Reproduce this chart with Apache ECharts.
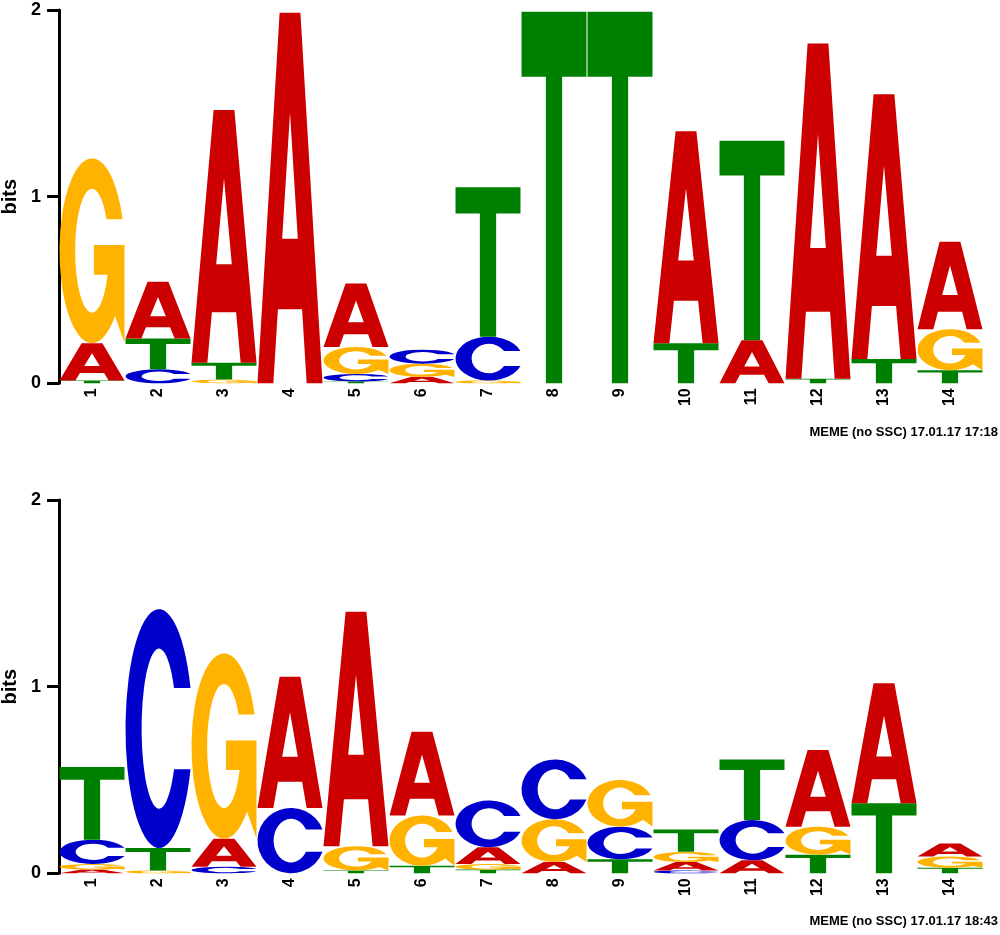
<!DOCTYPE html>
<html>
<head>
<meta charset="utf-8">
<script src="https://cdn.jsdelivr.net/npm/echarts@6/dist/echarts.min.js"></script>
<style>
html,body{margin:0;padding:0;background:#fff;}
#chart{width:1000px;height:935px;}
</style>
</head>
<body>
<div id="chart"></div>
<script>
// Positions (x-axis tick labels)
const positions = ['1','2','3','4','5','6','7','8','9','10','11','12','13','14'];
const yTicks = [0, 1, 2];

// Motif 1 (top logo): information content per letter, in bits
const m1A = [0.20, 0.304, 1.354, 1.985, 0.34, 0.035, 0.0, 0.0, 0.0, 1.135, 0.23, 1.795, 1.418, 0.468];
const m1C = [0.0, 0.075, 0.0, 0.0, 0.04, 0.075, 0.235, 0.0, 0.0, 0.0, 0.0, 0.0, 0.0, 0.0];
const m1G = [0.99, 0.0, 0.02, 0.0, 0.145, 0.07, 0.015, 0.0, 0.0, 0.0, 0.0, 0.0, 0.0, 0.22];
const m1T = [0.015, 0.165, 0.09, 0.0, 0.01, 0.0, 0.80, 1.99, 1.99, 0.215, 1.07, 0.025, 0.13, 0.07];

// Motif 2 (bottom logo)
const m2A = [0.02, 0.0, 0.15, 0.703, 1.256, 0.448, 0.09, 0.06, 0.0, 0.045, 0.07, 0.41, 0.643, 0.07];
const m2C = [0.13, 1.28, 0.035, 0.35, 0.0, 0.0, 0.25, 0.32, 0.175, 0.015, 0.215, 0.0, 0.0, 0.0];
const m2G = [0.03, 0.015, 0.993, 0.0, 0.13, 0.27, 0.03, 0.23, 0.25, 0.055, 0.0, 0.15, 0.0, 0.06];
const m2T = [0.39, 0.12, 0.0, 0.0, 0.015, 0.04, 0.02, 0.0, 0.075, 0.12, 0.325, 0.10, 0.375, 0.03];

const credit1 = 'MEME (no SSC) 17.01.17 17:18';
const credit2 = 'MEME (no SSC) 17.01.17 18:43';

const COLORS = { A: '#CC0000', C: '#0000CC', G: '#FFB300', T: '#008000' };
const GLYPHS = {
  A: 'M0,100 L34,0 L66,0 L100,100 L75.6,100 L68.6,80 L31.4,80 L24.4,100 Z M38,61 L62,61 L50,27 Z',
  C: 'M97,33 A50,50 0 1 0 97,67 L72.4,67 A26,33.5 0 1 1 72.4,33 Z',
  G: 'M97,33 A50,50 0 1 0 85.4,85.4 L100,100 L100,47 L53,47 L53,63 L74,63 A26,33.5 0 1 1 72.4,33 Z',
  T: 'M0,0 L100,0 L100,17.5 L62.5,17.5 L62.5,100 L37.5,100 L37.5,17.5 L0,17.5 Z'
};

function renderLogo(params, api) {
  const idx = api.value(0);
  const letters = [
    { k: 'A', v: api.value(1) },
    { k: 'C', v: api.value(2) },
    { k: 'G', v: api.value(3) },
    { k: 'T', v: api.value(4) }
  ].filter(l => l.v > 0).sort((a, b) => a.v - b.v);
  const bw = api.size([1, 0])[0];
  let cum = 0;
  const children = [];
  letters.forEach(l => {
    const p0 = api.coord([idx, cum]);
    const p1 = api.coord([idx, cum + l.v]);
    cum += l.v;
    const h = p0[1] - p1[1];
    if (h < 0.6) return;
    children.push({
      type: 'path',
      shape: { pathData: GLYPHS[l.k], x: p0[0] - bw / 2 + 0.5, y: p1[1], width: bw - 1, height: h, layout: 'cover' },
      style: { fill: COLORS[l.k] }
    });
  });
  return { type: 'group', children };
}

function mkData(A, C, G, T) {
  return positions.map((p, i) => [i, A[i], C[i], G[i], T[i]]);
}

const font = 'Liberation Sans';
function yAxis(gridIndex) {
  return {
    gridIndex, type: 'value', min: 0, max: 2, interval: 1,
    name: 'bits', nameLocation: 'middle', nameGap: 36, nameRotate: 90,
    nameTextStyle: { fontFamily: font, fontWeight: 'bold', fontSize: 20, color: '#000' },
    axisLine: { show: true, lineStyle: { color: '#000', width: 3 } },
    axisTick: { show: true, length: 12, lineStyle: { color: '#000', width: 3 } },
    axisLabel: { margin: 18, fontFamily: font, fontWeight: 'bold', fontSize: 18, color: '#000',
      formatter: v => yTicks.indexOf(v) >= 0 ? String(v) : '' },
    splitLine: { show: false }
  };
}
function xAxis(gridIndex) {
  return {
    gridIndex, type: 'category', data: positions, boundaryGap: true,
    axisLine: { show: false }, axisTick: { show: false }, splitLine: { show: false },
    axisLabel: { rotate: 90, margin: 5, interval: 0, fontFamily: font, fontWeight: 'bold', fontSize: 16, color: '#000' }
  };
}

const chart = echarts.init(document.getElementById('chart'), null, { renderer: 'canvas' });
chart.setOption({
  backgroundColor: '#fff',
  animation: false,
  grid: [
    { left: 59, right: 17, top: 10, bottom: 551.7, containLabel: false, outerBoundsMode: 'none' },
    { left: 59, right: 17, top: 500, bottom: 61.7, containLabel: false, outerBoundsMode: 'none' }
  ],
  xAxis: [xAxis(0), xAxis(1)],
  yAxis: [yAxis(0), yAxis(1)],
  series: [
    { type: 'custom', xAxisIndex: 0, yAxisIndex: 0, renderItem: renderLogo,
      encode: { x: 0, y: 1 }, data: mkData(m1A, m1C, m1G, m1T) },
    { type: 'custom', xAxisIndex: 1, yAxisIndex: 1, renderItem: renderLogo,
      encode: { x: 0, y: 1 }, data: mkData(m2A, m2C, m2G, m2T) }
  ],
  graphic: [
    { type: 'text', right: 2, top: 426, style: { text: credit1, font: 'bold 13px "Liberation Sans"', fill: '#000' } },
    { type: 'text', right: 2, top: 915, style: { text: credit2, font: 'bold 13px "Liberation Sans"', fill: '#000' } }
  ]
});
</script>
</body>
</html>
